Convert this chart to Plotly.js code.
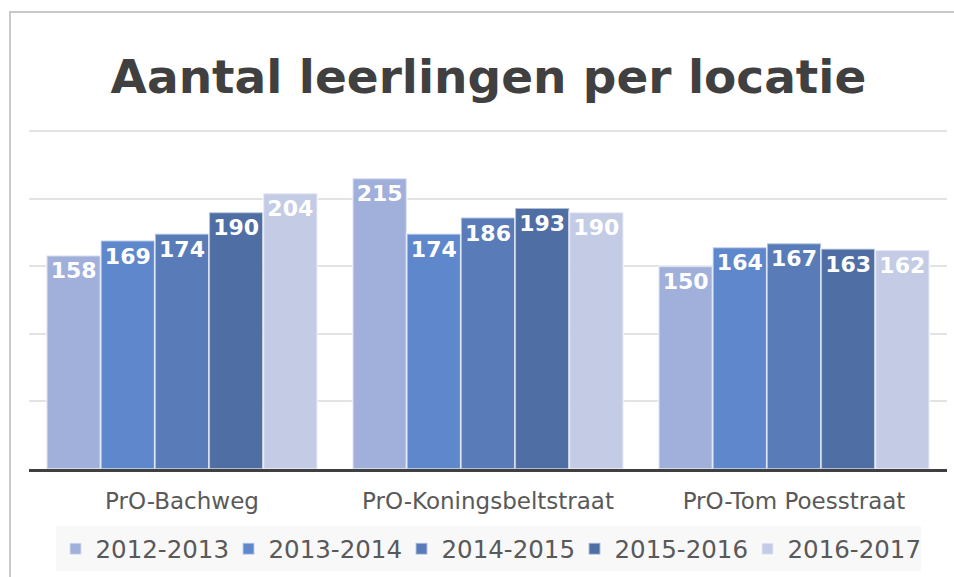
<!DOCTYPE html>
<html>
<head>
<meta charset="utf-8">
<script src="https://cdn.plot.ly/plotly-3.0.1.min.js"></script>
<style>
  html, body { margin: 0; padding: 0; background: #fff; overflow: hidden; }
  #wrap { position: relative; width: 954px; height: 577px; }
  #chart { width: 954px; height: 577px; }
  #frame { position: absolute; left: 9px; top: 11px; width: 960px; height: 600px;
           border-left: 2px solid #c9c9c9; border-top: 2px solid #c9c9c9; pointer-events: none; }
</style>
</head>
<body>
<div id="wrap">
  <div id="chart"></div>
  <div id="frame"></div>
</div>
<script>
const locations = ['PrO-Bachweg', 'PrO-Koningsbeltstraat', 'PrO-Tom Poesstraat'];
const seriesNames = ['2012-2013', '2013-2014', '2014-2015', '2015-2016', '2016-2017'];
const v2012 = [158, 215, 150];
const v2013 = [169, 174, 164];
const v2014 = [174, 186, 167];
const v2015 = [190, 193, 163];
const v2016 = [204, 190, 162];
const seriesValues = [v2012, v2013, v2014, v2015, v2016];
const seriesColors = ['#a0b0da', '#5f87cc', '#597cb8', '#4f6ea4', '#c3cbe5'];

const FONT = 'DejaVu Sans, Verdana, sans-serif';

const traces = seriesNames.map((name, i) => ({
  type: 'bar',
  name: name,
  x: locations,
  y: seriesValues[i],
  text: seriesValues[i].map(String),
  textposition: 'inside',
  insidetextanchor: 'end',
  textangle: 0,
  textfont: { family: FONT, size: 22, color: '#ffffff', weight: 'bold' },
  marker: { color: seriesColors[i], line: { color: 'rgba(255,255,255,0.55)', width: 2 } },
  hoverinfo: 'x+y+name'
}));

const layout = {
  width: 954,
  height: 577,
  paper_bgcolor: '#ffffff',
  plot_bgcolor: '#ffffff',
  margin: { l: 29, r: 7, t: 127, b: 107 },
  title: {
    text: '<b>Aantal leerlingen per locatie</b>',
    font: { family: FONT, size: 47, color: '#404040' },
    x: 0.512, xanchor: 'center',
    y: 0.868, yanchor: 'middle', yref: 'container'
  },
  barmode: 'group',
  bargap: 0.115,
  bargroupgap: 0,
  xaxis: {
    showline: true, linecolor: '#404040', linewidth: 3,
    ticks: '', showgrid: false,
    tickfont: { family: FONT, size: 23, color: '#595959' },
    ticklabelstandoff: 9
  },
  yaxis: {
    range: [0, 253], tick0: 0, dtick: 50,
    showticklabels: false, ticks: '',
    showgrid: true, gridcolor: '#e3e3e3', gridwidth: 2,
    zeroline: false, showline: false
  },
  showlegend: true,
  legend: {
    orientation: 'h',
    x: 0.5, xanchor: 'center',
    y: -0.23, yanchor: 'middle',
    bgcolor: '#f8f8f8',
    font: { family: FONT, size: 24.5, color: '#595959' },
    entrywidth: 128, entrywidthmode: 'pixels',
    traceorder: 'normal'
  }
};

Plotly.newPlot('chart', traces, layout, { displayModeBar: false, staticPlot: true });
</script>
</body>
</html>
